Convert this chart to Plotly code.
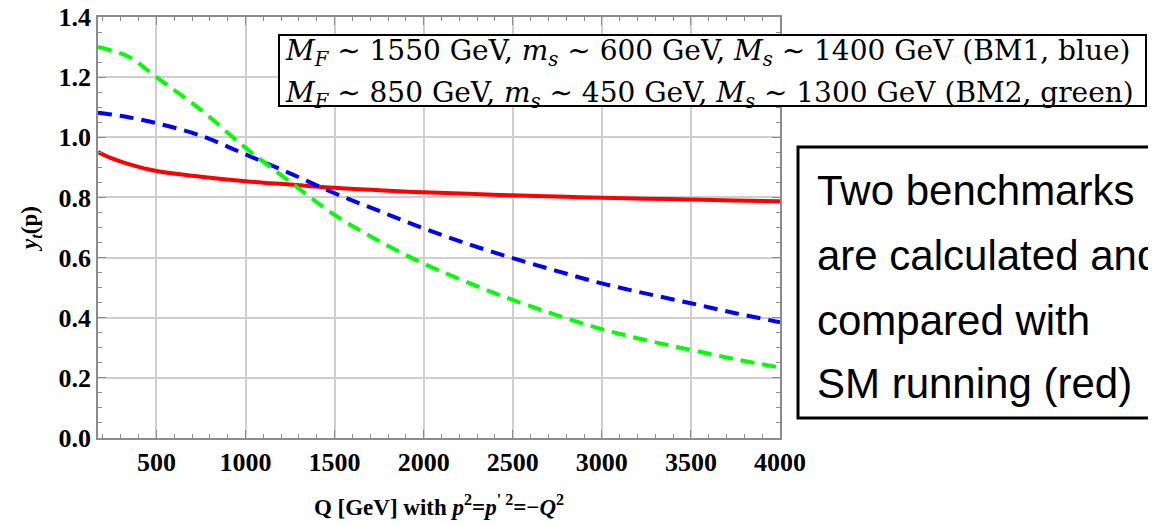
import plotly.graph_objects as go

# ---- data ----
q_gev = [172, 250, 350, 500, 750, 1000, 1250, 1500, 1750, 2000, 2250, 2500,
         2750, 3000, 3250, 3500, 3750, 4000]
yt_sm = [0.951, 0.930, 0.910, 0.888, 0.869, 0.854, 0.843, 0.832, 0.824, 0.817,
         0.812, 0.807, 0.803, 0.799, 0.796, 0.793, 0.790, 0.787]
yt_bm1 = [1.082, 1.076, 1.066, 1.047, 1.005, 0.943, 0.880, 0.814, 0.755, 0.697,
          0.645, 0.598, 0.555, 0.514, 0.480, 0.448, 0.415, 0.385]
yt_bm2 = [1.300, 1.288, 1.266, 1.200, 1.091, 0.965, 0.852, 0.742, 0.655, 0.580,
          0.517, 0.459, 0.408, 0.362, 0.325, 0.293, 0.262, 0.234]

x_ticks = [500, 1000, 1500, 2000, 2500, 3000, 3500, 4000]
y_ticks = [0.0, 0.2, 0.4, 0.6, 0.8, 1.0, 1.2, 1.4]
y_ticklabels = ["0.0", "0.2", "0.4", "0.6", "0.8", "1.0", "1.2", "1.4"]

legend_lines = [
    "<i>M</i><sub><i>F</i></sub> ∼ 1550 GeV, <i>m</i><sub><i>s</i></sub> ∼ 600 GeV, "
    "<i>M</i><sub><i>s</i></sub> ∼ 1400 GeV (BM1, blue)",
    "<i>M</i><sub><i>F</i></sub> ∼ 850 GeV, <i>m</i><sub><i>s</i></sub> ∼ 450 GeV, "
    "<i>M</i><sub><i>s</i></sub> ∼ 1300 GeV (BM2, green)",
]
note_lines = ["Two benchmarks", "are calculated and", "compared with", "SM running (red)"]

# ---- geometry: the page body adds an 8px offset, so work in screen pixels minus 8 ----
W, H = 1156, 525
OFF = 8
L, R, T, B = 98 - OFF, 780 - OFF, 17 - OFF, 438 - OFF


def px(xs):
    return (xs - OFF - L) / (R - L)


def py(ys):
    return (B - (ys - OFF)) / (B - T)


fig = go.Figure()
fig.add_trace(go.Scatter(x=q_gev, y=yt_sm, mode="lines", line=dict(color="#ff0000", width=4, shape="spline"),
                         name="SM"))
fig.add_trace(go.Scatter(x=q_gev, y=yt_bm1, mode="lines",
                         line=dict(color="#0000ff", width=4, dash="14px,8px", shape="spline"), name="BM1"))
fig.add_trace(go.Scatter(x=q_gev, y=yt_bm2, mode="lines",
                         line=dict(color="#00ff00", width=4, dash="14px,8px", shape="spline"), name="BM2"))

serif = "Liberation Serif, Times New Roman, serif"
axis_common = dict(
    showline=True, linecolor="#8c8c8c", linewidth=1.5, mirror="ticks",
    ticks="inside", ticklen=8, tickwidth=1.2, tickcolor="#8c8c8c",
    showgrid=True, gridcolor="#cfcfcf", gridwidth=1.5, zeroline=False,
    tickfont=dict(family=serif, size=26, color="black", weight="bold"),
    ticklabeloverflow="allow",
    automargin=False,
)

fig.update_xaxes(
    range=[172, 4000], tickvals=x_ticks, ticktext=[str(v) for v in x_ticks],
    minor=dict(dtick=100, tick0=0, ticks="inside", ticklen=4, tickcolor="#8c8c8c", showgrid=False),
    title=dict(text="<b>Q [GeV] with <i>p</i><sup>2</sup>=<i>p</i><sup>' 2</sup>=−<i>Q</i><sup>2</sup></b>",
               font=dict(family=serif, size=23, color="black"), standoff=23),
    **axis_common,
)
fig.update_yaxes(
    range=[0, 1.4], tickvals=y_ticks, ticktext=y_ticklabels,
    minor=dict(dtick=0.05, tick0=0, ticks="inside", ticklen=4, tickcolor="#8c8c8c", showgrid=False),
    title=dict(text="<b><i>y</i><sub><i>t</i></sub>(p)</b>",
               font=dict(family=serif, size=23, color="black"), standoff=14),
    **axis_common,
)

shapes = [
    # legend box
    dict(type="rect", xref="paper", yref="paper", x0=px(279), x1=px(1146), y0=py(106), y1=py(35),
         line=dict(color="black", width=2), fillcolor="white", layer="above"),
    # note box
    dict(type="rect", xref="paper", yref="paper", x0=px(798), x1=px(1200), y0=py(418), y1=py(147),
         line=dict(color="black", width=3), fillcolor="rgba(0,0,0,0)", layer="above"),
]

annotations = []
for i, txt in enumerate(legend_lines):
    annotations.append(dict(
        x=px(283), y=py([53, 94][i]), xref="paper", yref="paper", xanchor="left", yanchor="middle",
        text=txt, showarrow=False, align="left",
        font=dict(family="DejaVu Serif, serif", size=28, color="black"),
    ))
for i, txt in enumerate(note_lines):
    annotations.append(dict(
        x=px(815), y=py([190, 255, 320, 383][i]), xref="paper", yref="paper", xanchor="left",
        yanchor="middle", text=txt, showarrow=False, align="left",
        font=dict(family="Liberation Sans, Arial, sans-serif", size=42, color="black"),
    ))

fig.update_layout(
    width=W, height=H, autosize=False,
    margin=dict(l=L, r=W - R, t=T, b=H - B, pad=0, autoexpand=False),
    plot_bgcolor="white", paper_bgcolor="white",
    showlegend=False, shapes=shapes, annotations=annotations,
)

fig.write_html("out.html")
